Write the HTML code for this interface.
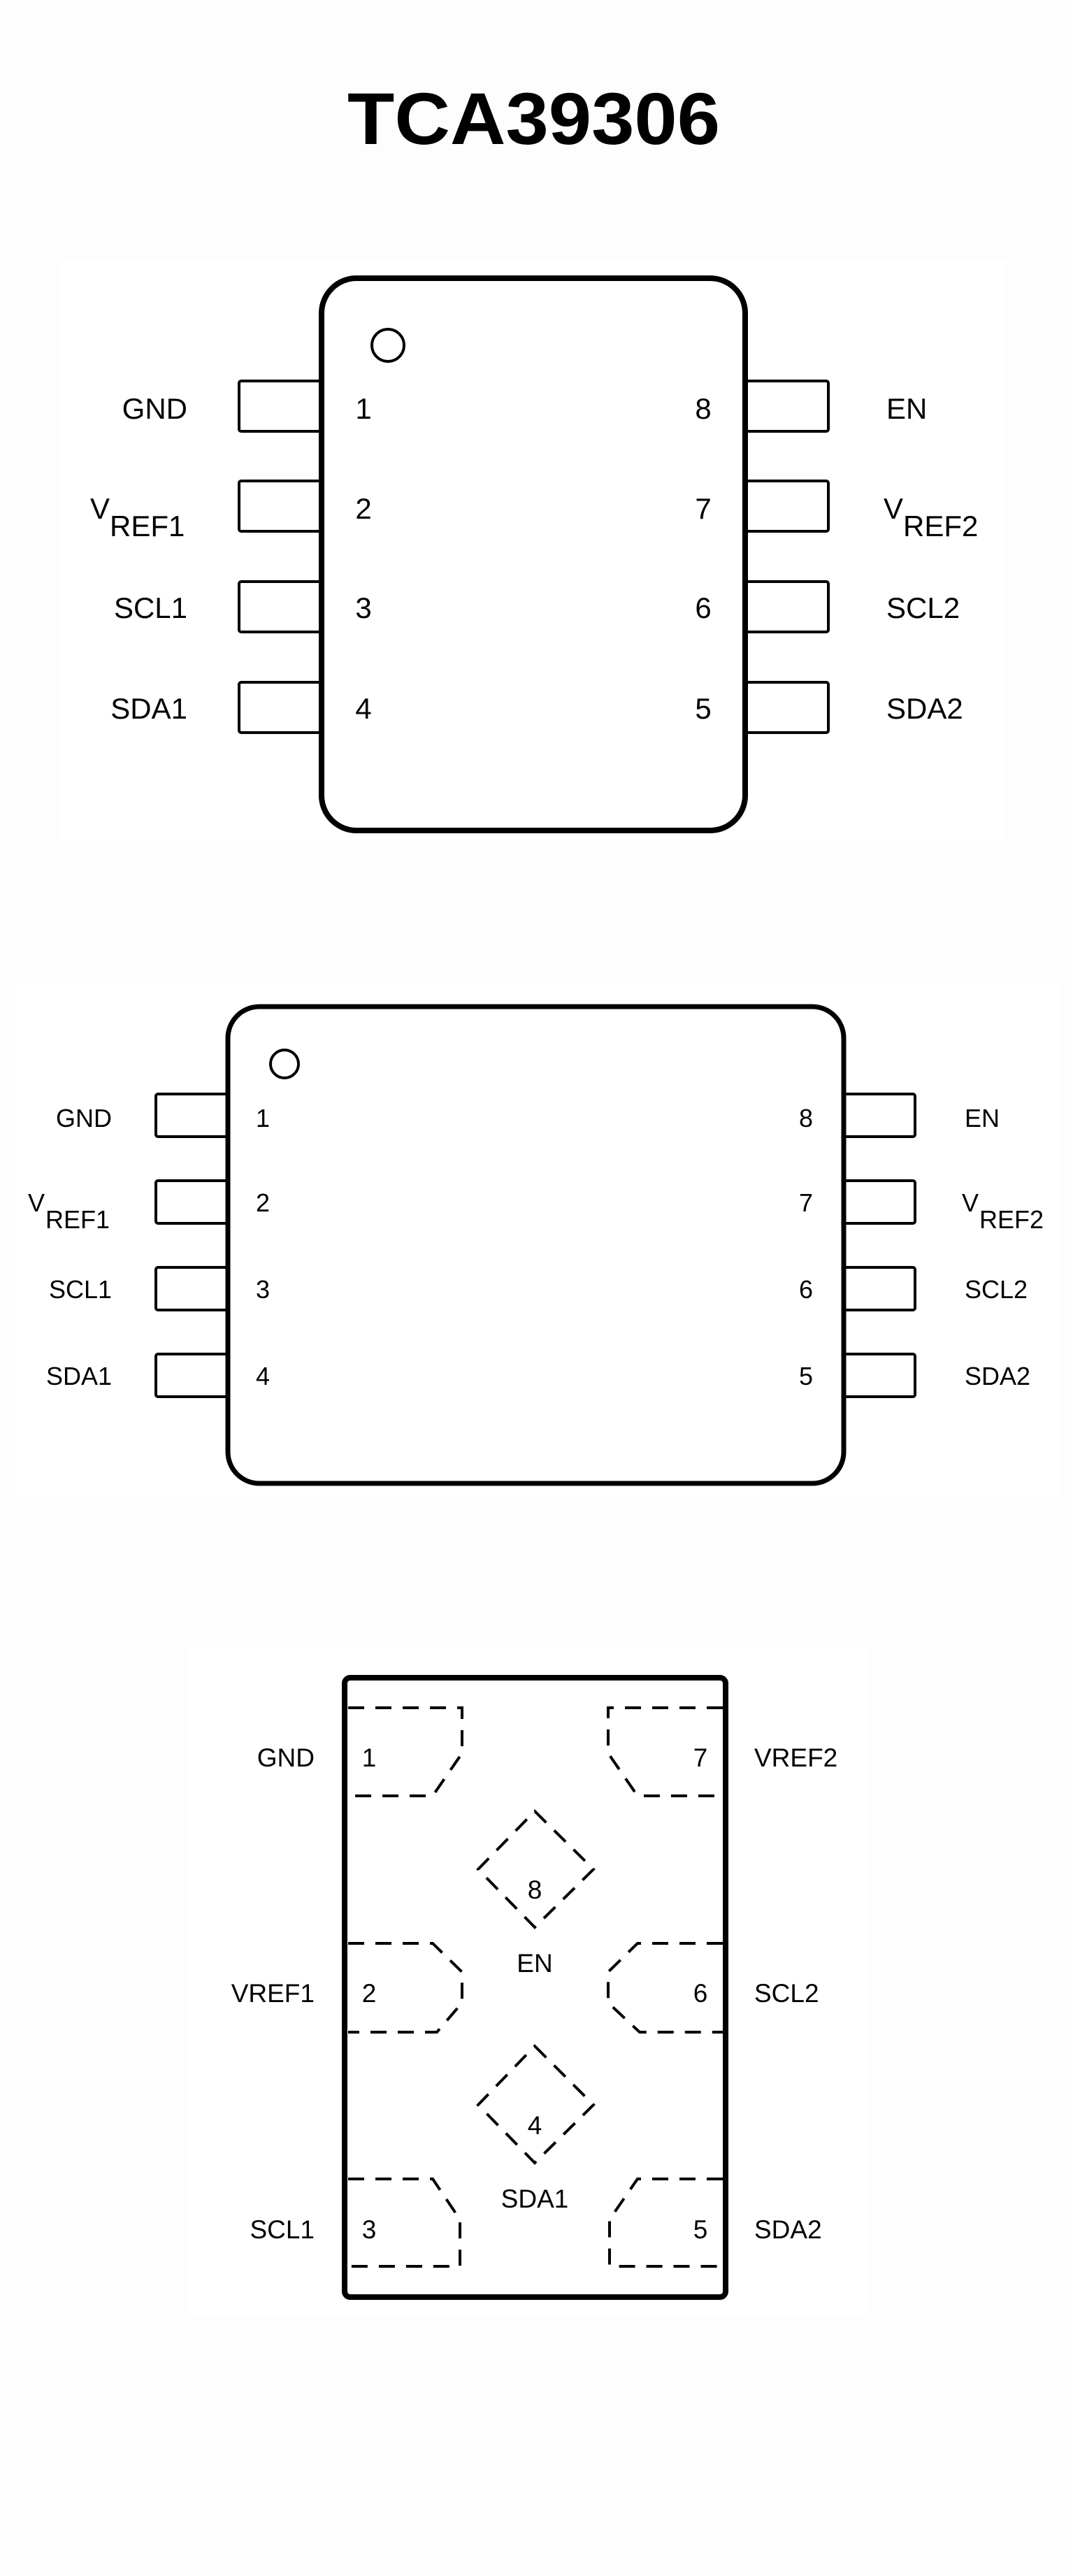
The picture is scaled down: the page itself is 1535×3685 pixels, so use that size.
<!DOCTYPE html>
<html><head><meta charset="utf-8"><style>
html,body{margin:0;padding:0;background:#fdfdfd;}
svg{display:block;}
text{font-family:"Liberation Sans",sans-serif;fill:#000;}
</style></head><body>
<svg width="1535" height="3685" viewBox="0 0 1535 3685" xmlns="http://www.w3.org/2000/svg">
<rect width="1535" height="3685" fill="#fdfdfd"/>
<text x="497" y="206" font-size="105" font-weight="bold" textLength="533" lengthAdjust="spacingAndGlyphs">TCA39306</text>

<!-- Diagram 1 -->
<rect x="84" y="371" width="1355" height="831" fill="#fff"/>
<g fill="#fff" stroke="#000" stroke-width="4" stroke-linejoin="round">
<rect x="342" y="545" width="118" height="72" rx="3"/>
<rect x="342" y="688" width="118" height="72" rx="3"/>
<rect x="342" y="832" width="118" height="72" rx="3"/>
<rect x="342" y="976" width="118" height="72" rx="3"/>
<rect x="1066" y="545" width="119" height="72" rx="3"/>
<rect x="1066" y="688" width="119" height="72" rx="3"/>
<rect x="1066" y="832" width="119" height="72" rx="3"/>
<rect x="1066" y="976" width="119" height="72" rx="3"/>
</g>
<rect x="460" y="398" width="606" height="790" rx="50" fill="#fff" stroke="#000" stroke-width="8"/>
<circle cx="555" cy="494" r="23" fill="none" stroke="#000" stroke-width="4"/>
<g font-size="42">
<text x="268" y="599" text-anchor="end">GND</text>
<text x="268" y="884" text-anchor="end">SCL1</text>
<text x="268" y="1028" text-anchor="end">SDA1</text>
<text x="129" y="742">V</text><text x="157" y="767">REF1</text>
<text x="520" y="599" text-anchor="middle">1</text>
<text x="520" y="742" text-anchor="middle">2</text>
<text x="520" y="884" text-anchor="middle">3</text>
<text x="520" y="1028" text-anchor="middle">4</text>
<text x="1006" y="599" text-anchor="middle">8</text>
<text x="1006" y="742" text-anchor="middle">7</text>
<text x="1006" y="884" text-anchor="middle">6</text>
<text x="1006" y="1028" text-anchor="middle">5</text>
<text x="1268" y="599">EN</text>
<text x="1268" y="884">SCL2</text>
<text x="1268" y="1028">SDA2</text>
<text x="1264" y="742">V</text><text x="1292" y="767">REF2</text>
</g>

<!-- Diagram 2 -->
<rect x="23" y="1408" width="1491" height="732" fill="#fff"/>
<g fill="#fff" stroke="#000" stroke-width="4" stroke-linejoin="round">
<rect x="223" y="1565" width="103" height="61" rx="3"/>
<rect x="223" y="1689" width="103" height="61" rx="3"/>
<rect x="223" y="1813" width="103" height="61" rx="3"/>
<rect x="223" y="1937" width="103" height="61" rx="3"/>
<rect x="1207" y="1565" width="102" height="61" rx="3"/>
<rect x="1207" y="1689" width="102" height="61" rx="3"/>
<rect x="1207" y="1813" width="102" height="61" rx="3"/>
<rect x="1207" y="1937" width="102" height="61" rx="3"/>
</g>
<rect x="326" y="1440" width="881" height="682" rx="45" fill="#fff" stroke="#000" stroke-width="7"/>
<circle cx="407" cy="1522" r="20" fill="none" stroke="#000" stroke-width="4"/>
<g font-size="36">
<text x="160" y="1612" text-anchor="end">GND</text>
<text x="160" y="1857" text-anchor="end">SCL1</text>
<text x="160" y="1981" text-anchor="end">SDA1</text>
<text x="40" y="1733">V</text><text x="65" y="1757">REF1</text>
<text x="376" y="1612" text-anchor="middle">1</text>
<text x="376" y="1733" text-anchor="middle">2</text>
<text x="376" y="1857" text-anchor="middle">3</text>
<text x="376" y="1981" text-anchor="middle">4</text>
<text x="1153" y="1612" text-anchor="middle">8</text>
<text x="1153" y="1733" text-anchor="middle">7</text>
<text x="1153" y="1857" text-anchor="middle">6</text>
<text x="1153" y="1981" text-anchor="middle">5</text>
<text x="1380" y="1612">EN</text>
<text x="1380" y="1857">SCL2</text>
<text x="1380" y="1981">SDA2</text>
<text x="1376" y="1733">V</text><text x="1401" y="1757">REF2</text>
</g>

<!-- Diagram 3 -->
<rect x="272" y="2359" width="972" height="955" fill="#fff"/>
<rect x="493" y="2400" width="545" height="886" rx="8" fill="#fff" stroke="#000" stroke-width="8"/>
<g fill="none" stroke="#000" stroke-width="4" stroke-dasharray="23 16">
<path d="M498,2443 H661 V2508 L619,2569 H498"/>
<path d="M1034,2443 H870 V2508 L912,2569 H1034"/>
<path d="M498,2780 H619 L661,2821 V2865 L625,2907 H498"/>
<path d="M1034,2780 H912 L870,2821 V2865 L915,2907 H1034"/>
<path d="M498,3117 H619 L658,3175 V3242 H498"/>
<path d="M1034,3117 H912 L872,3175 V3242 H1034"/>
<path d="M765,2591 L849,2674 L765,2757 L684,2674 Z"/>
<path d="M765,2927 L849,3011 L765,3094 L684,3011 Z"/>
</g>
<g font-size="37">
<text x="450" y="2527" text-anchor="end">GND</text>
<text x="450" y="2864" text-anchor="end">VREF1</text>
<text x="450" y="3202" text-anchor="end">SCL1</text>
<text x="528" y="2527" text-anchor="middle">1</text>
<text x="528" y="2864" text-anchor="middle">2</text>
<text x="528" y="3202" text-anchor="middle">3</text>
<text x="1002" y="2527" text-anchor="middle">7</text>
<text x="1002" y="2864" text-anchor="middle">6</text>
<text x="1002" y="3202" text-anchor="middle">5</text>
<text x="1079" y="2527">VREF2</text>
<text x="1079" y="2864">SCL2</text>
<text x="1079" y="3202">SDA2</text>
<text x="765" y="2716" text-anchor="middle">8</text>
<text x="765" y="2821" text-anchor="middle">EN</text>
<text x="765" y="3053" text-anchor="middle">4</text>
<text x="765" y="3158" text-anchor="middle">SDA1</text>
</g>
</svg>
</body></html>
